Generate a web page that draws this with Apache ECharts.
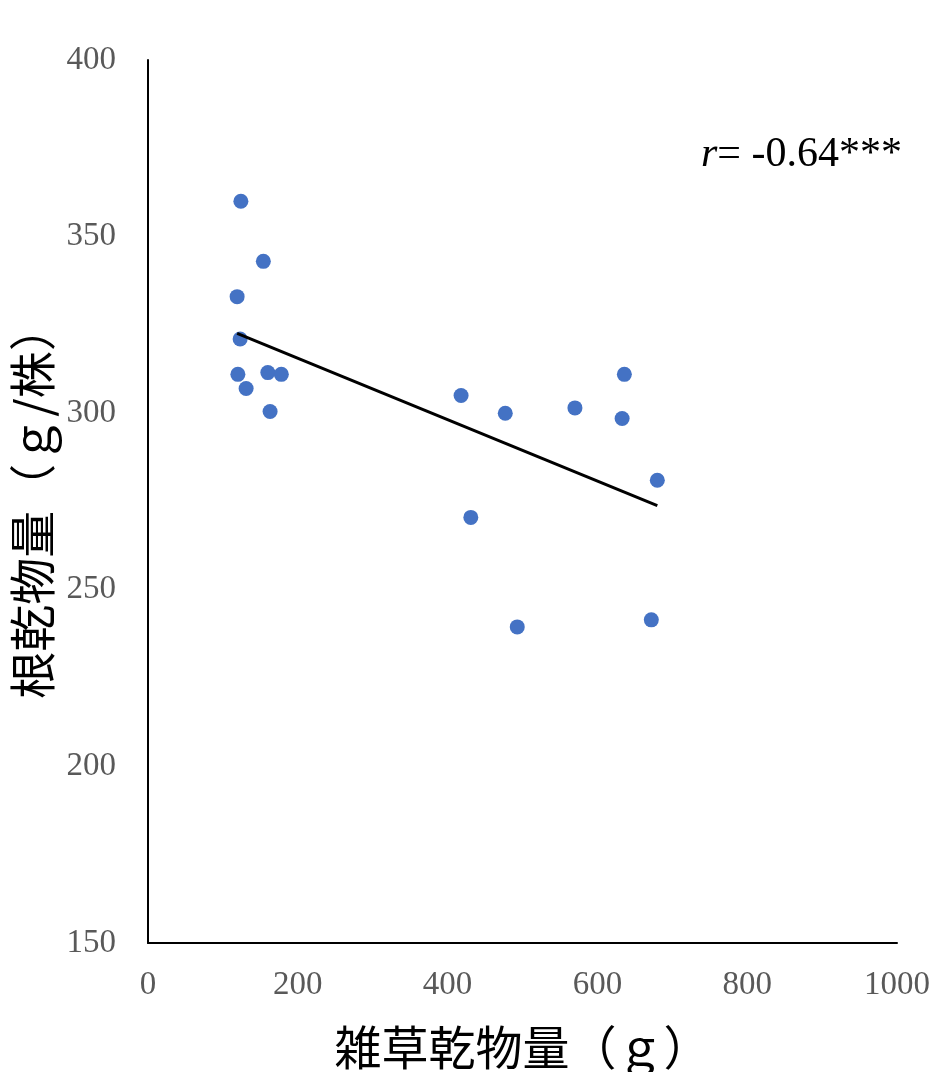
<!DOCTYPE html>
<html><head><meta charset="utf-8">
<script src="https://cdn.jsdelivr.net/npm/echarts@6/dist/echarts.min.js"></script>
<style>html,body{margin:0;padding:0;background:#fff;overflow:hidden}#c{width:938px;height:1072px}</style>
</head><body><div id="c"></div>
<script>
var weedDry = [124, 154, 119, 123, 120, 160, 178, 131, 163, 418, 477, 570, 636, 633, 680, 431, 493, 672];
var rootDry = [360, 343, 333, 321, 311, 311.5, 311, 307, 300.5, 305, 300, 301.5, 311, 298.5, 281, 270.5, 239.5, 241.5];
var xTitle = '雑草乾物量（ｇ）';
var yTitle = '根乾物量（ｇ/株）';
var rText = '-0.64***';

var pts = weedDry.map(function(x,i){return [x, rootDry[i]];});
// least-squares trend line from data
var n = pts.length, sx=0, sy=0, sxx=0, sxy=0;
pts.forEach(function(p){sx+=p[0];sy+=p[1];sxx+=p[0]*p[0];sxy+=p[0]*p[1];});
var b = (n*sxy - sx*sy)/(n*sxx - sx*sx), a = (sy - b*sx)/n;
var xmin = Math.min.apply(null, weedDry), xmax = Math.max.apply(null, weedDry);
var trend = [[xmin, a+b*xmin],[xmax, a+b*xmax]];

var chart = echarts.init(document.getElementById('c'));
var tickFont = {fontFamily:'Liberation Serif', fontSize:33, color:'#595959'};
chart.setOption({
  animation:false,
  grid:{left:148, right:41, top:60, bottom:129, containLabel:false, outerBoundsMode:'none'},
  xAxis:{type:'value', min:0, max:1000, interval:200,
    axisLine:{show:true, lineStyle:{color:'#000', width:2}}, axisTick:{show:false}, splitLine:{show:false},
    axisLabel:Object.assign({margin:26, formatter:function(v){return String(v);}}, tickFont),
    name:xTitle, nameLocation:'middle', nameGap:104,
    nameTextStyle:{fontFamily:'Noto Sans CJK JP', fontSize:47, color:'#000', verticalAlign:'middle'}},
  yAxis:{type:'value', min:150, max:400, interval:50,
    axisLine:{show:true, lineStyle:{color:'#000', width:2}}, axisTick:{show:false}, splitLine:{show:false},
    axisLabel:Object.assign({margin:32, formatter:function(v){return String(v);}}, tickFont),
    name:yTitle, nameLocation:'middle', nameGap:103,
    nameTextStyle:{fontFamily:'Noto Sans CJK JP', fontSize:47, color:'#000', verticalAlign:'middle'}},
  series:[
    {type:'line', data:trend, symbol:'none', lineStyle:{color:'#000', width:3}, z:3},
    {type:'scatter', data:pts, symbolSize:15, itemStyle:{color:'#4472C4', opacity:1}, z:2}
  ],
  graphic:[{type:'text', left:701, top:134, style:{
    text:'{i|r}{n|= '+rText+'}',
    rich:{i:{fontFamily:'Liberation Serif', fontStyle:'italic', fontSize:42, fill:'#000'},
          n:{fontFamily:'Liberation Serif', fontSize:42, fill:'#000'}}
  }}]
});
</script></body></html>
